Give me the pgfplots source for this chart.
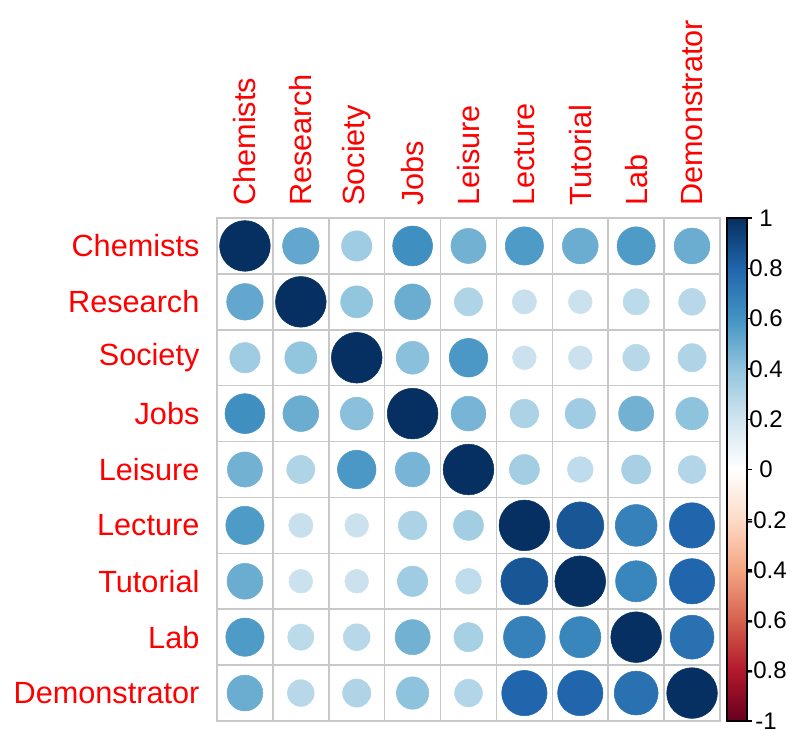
\documentclass[border=0pt]{standalone}
\usepackage{fontspec}
\setmainfont{Liberation Sans}
\usepackage{pgfplots}
\pgfplotsset{compat=1.18}
\definecolor{gridgray}{RGB}{200,200,200}
\pgfplotsset{
  colormap={RdBu}{rgb255=(103,0,31) rgb255=(178,24,43) rgb255=(214,96,77)
    rgb255=(244,165,130) rgb255=(253,219,199) rgb255=(255,255,255)
    rgb255=(209,229,240) rgb255=(146,197,222) rgb255=(67,147,195)
    rgb255=(33,102,172) rgb255=(5,48,97)},
}
\begin{document}
\begin{tikzpicture}
\path[use as bounding box] (0,0) rectangle (594pt,546.75pt);
\begin{axis}[
    at={(162.75pt,6pt)}, anchor=south west,
    scale only axis, width=377.25pt, height=377.25pt,
    xmin=0.5, xmax=9.5, ymin=0.5, ymax=9.5,
    y dir=reverse,
    xtick={1,...,9}, ytick={1,...,9},
    xticklabels={Chemists,Research,Society,Jobs,Leisure,Lecture,Tutorial,Lab,Demonstrator},
    yticklabels={Chemists,Research,Society,Jobs,Leisure,Lecture,Tutorial,Lab,Demonstrator},
    xticklabel pos=top,
    major tick length=0pt, minor tick length=0pt,
    minor xtick={1.5,2.5,...,8.5}, minor ytick={1.5,2.5,...,8.5},
    xminorgrids=true, yminorgrids=true,
    minor grid style={draw=gridgray, line width=1.2pt},
    axis line style={draw=gridgray, line width=1.2pt},
    ticklabel style={font=\fontsize{23}{27}\selectfont, text=red},
    xticklabel style={rotate=90, anchor=west, inner xsep=9pt, inner ysep=0pt},
    yticklabel style={anchor=east, inner xsep=13pt, inner ysep=0pt},
    colormap name=RdBu,
    point meta min=-1, point meta max=1,
    colorbar right,
    colorbar style={
      at={(parent axis.north east)}, anchor=north west, xshift=-3.25pt,
      width=15pt,
      ytick={-1,-0.8,-0.6,-0.4,-0.2,0,0.2,0.4,0.6,0.8,1},
      yticklabels={-1,-0.8,-0.6,-0.4,-0.2,0,0.2,0.4,0.6,0.8,1},
      yticklabel pos=right, ytick pos=right, ytick align=outside,
      major tick length=3.75pt,
      tick style={black, line width=1pt},
      axis line style={black, line width=1pt},
      yticklabel style={font=\fontsize{18}{20}\selectfont, text=black,
        anchor=center, inner sep=0pt, xshift=10.5pt},
    },
  ]
  \addplot[
      scatter, only marks, mark=*,
      point meta=\thisrow{r},
      scatter/use mapped color={draw=mapped color, fill=mapped color},
      visualization depends on={19*sqrt(\thisrow{r}) \as \rad},
      scatter/@pre marker code/.append style={/tikz/mark size=\rad},
    ]
    table {
      x y r
      1 1 1.00
      2 1 0.52
      3 1 0.36
      4 1 0.62
      5 1 0.48
      6 1 0.57
      7 1 0.50
      8 1 0.57
      9 1 0.50
      1 2 0.52
      2 2 1.00
      3 2 0.40
      4 2 0.50
      5 2 0.31
      6 2 0.23
      7 2 0.22
      8 2 0.27
      9 2 0.28
      1 3 0.36
      2 3 0.40
      3 3 1.00
      4 3 0.42
      5 3 0.58
      6 3 0.22
      7 3 0.22
      8 3 0.28
      9 3 0.31
      1 4 0.62
      2 4 0.50
      3 4 0.42
      4 4 1.00
      5 4 0.47
      6 4 0.32
      7 4 0.36
      8 4 0.48
      9 4 0.41
      1 5 0.48
      2 5 0.31
      3 5 0.58
      4 5 0.47
      5 5 1.00
      6 5 0.35
      7 5 0.26
      8 5 0.33
      9 5 0.30
      1 6 0.57
      2 6 0.23
      3 6 0.22
      4 6 0.32
      5 6 0.35
      6 6 1.00
      7 6 0.86
      8 6 0.68
      9 6 0.80
      1 7 0.50
      2 7 0.22
      3 7 0.22
      4 7 0.36
      5 7 0.26
      6 7 0.86
      7 7 1.00
      8 7 0.66
      9 7 0.80
      1 8 0.57
      2 8 0.27
      3 8 0.28
      4 8 0.48
      5 8 0.33
      6 8 0.68
      7 8 0.66
      8 8 1.00
      9 8 0.75
      1 9 0.50
      2 9 0.28
      3 9 0.31
      4 9 0.41
      5 9 0.30
      6 9 0.80
      7 9 0.80
      8 9 0.75
      9 9 1.00
    };
\end{axis}
\end{tikzpicture}
\end{document}
